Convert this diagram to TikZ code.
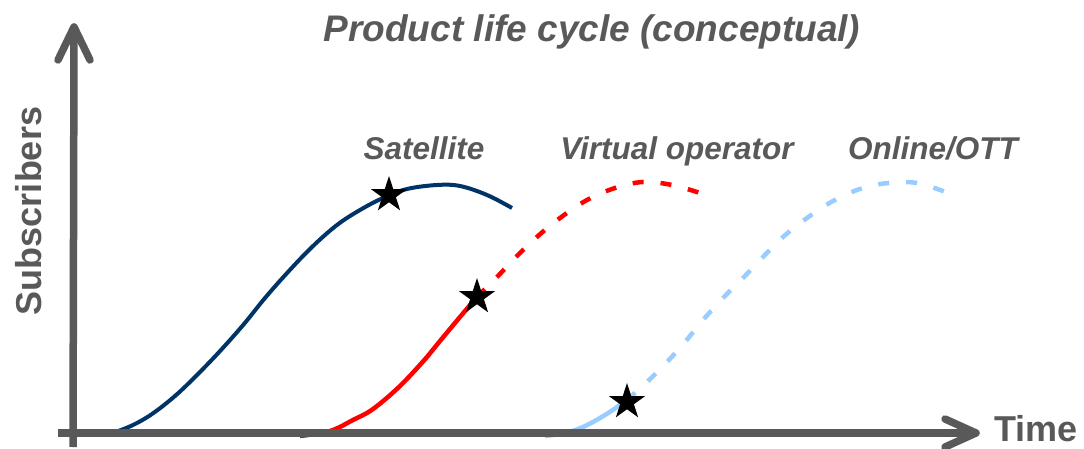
\documentclass[tikz,border=0pt]{standalone}
\usepackage{fontspec}
\setmainfont{Liberation Sans}
\usetikzlibrary{shapes.geometric}
\definecolor{axisgray}{HTML}{595959}
\definecolor{satblue}{HTML}{003366}
\definecolor{vored}{HTML}{FF0000}
\definecolor{ottblue}{HTML}{99CCFF}
\begin{document}
\begin{tikzpicture}[x=1pt,y=-1pt,
  axisline/.style={draw=axisgray, line width=7.5pt},
  axistip/.style={draw=axisgray, line width=7.5pt, line cap=round, line join=round},
  curve/.style={line width=4.5pt, smooth, tension=0.6},
  future/.style={dash pattern=on 11pt off 17pt},
  milestone/.style={star, star points=5, star point ratio=2.618, minimum size=38pt,
                    inner sep=0pt, fill=black, draw=none},
  heading/.style={text=axisgray, font=\fontsize{37}{40}\selectfont\bfseries\itshape, anchor=base},
  product/.style={text=axisgray, font=\fontsize{31.5}{34}\selectfont\bfseries\itshape, anchor=base},
  axislabel/.style={text=axisgray, font=\fontsize{36}{40}\selectfont\bfseries, anchor=base,
                    inner sep=0pt}]
\useasboundingbox (0,0) rectangle (1084,449);

% Satellite life cycle
\draw[curve, satblue, line width=4pt] plot coordinates {
  (100,435) (115,432) (133,425) (152,414) (175,396) (198,374) (221,350)
  (244,324) (265,298) (288,272) (312,247) (337,225) (360,210) (383,198)
  (407,189) (437,185) (460,186) (487,195) (512,208)};

% Virtual operator life cycle
\draw[curve, vored] plot coordinates {
  (300,436) (330,431) (353,420) (373,409) (400,386) (427,357) (440,341)
  (465,311) (477,297)};
\draw[curve, vored, future] plot coordinates {
  (477,297) (497,277) (517,256) (538,236) (560,218) (587,200) (615,188)
  (643,182) (672,185) (700,193)};

% Online/OTT life cycle
\draw[curve, ottblue] plot coordinates {
  (545,436) (565,433) (583,427) (605,415) (627,400)};
\draw[curve, ottblue, future] plot coordinates {
  (627,400) (647,382) (667,362) (685,342) (703,320) (723,298) (743,278)
  (762,258) (783,237) (807,218) (833,201) (860,189) (888,183) (917,183)
  (948,193)};

% Axes
\coordinate (origin) at (73,447);
\coordinate (ytip) at (74,27);
\coordinate (xstart) at (58,433);
\coordinate (xtip) at (976,433);
\draw[axisline] (origin) -- ([yshift=-4pt]ytip);
\draw[axisline] (xstart) -- ([xshift=-4pt]xtip);
\draw[axistip] ([shift={(-16,33)}]ytip) -- (ytip) -- ([shift={(16,33)}]ytip);
\draw[axistip] ([shift={(-31,-14)}]xtip) -- (xtip) -- ([shift={(-31,14)}]xtip);

% Milestones
\node[milestone] (satstar) at (389,195) {};
\node[milestone] (vostar) at (477,297) {};
\node[milestone] (ottstar) at (627,402) {};

% Texts
\node[heading] (title) at (592,42) {Product life cycle (conceptual)};
\node[product] (satlabel) at (424,160) {Satellite};
\node[product] (volabel) at (677,160) {Virtual operator};
\node[product] (ottlabel) at (933,160) {Online/OTT};
\node[axislabel, rotate=90] (ylabel) at (41,211) {Subscribers};
\node[axislabel] (xlabel) at (1036,441) {Time};
\end{tikzpicture}
\end{document}
